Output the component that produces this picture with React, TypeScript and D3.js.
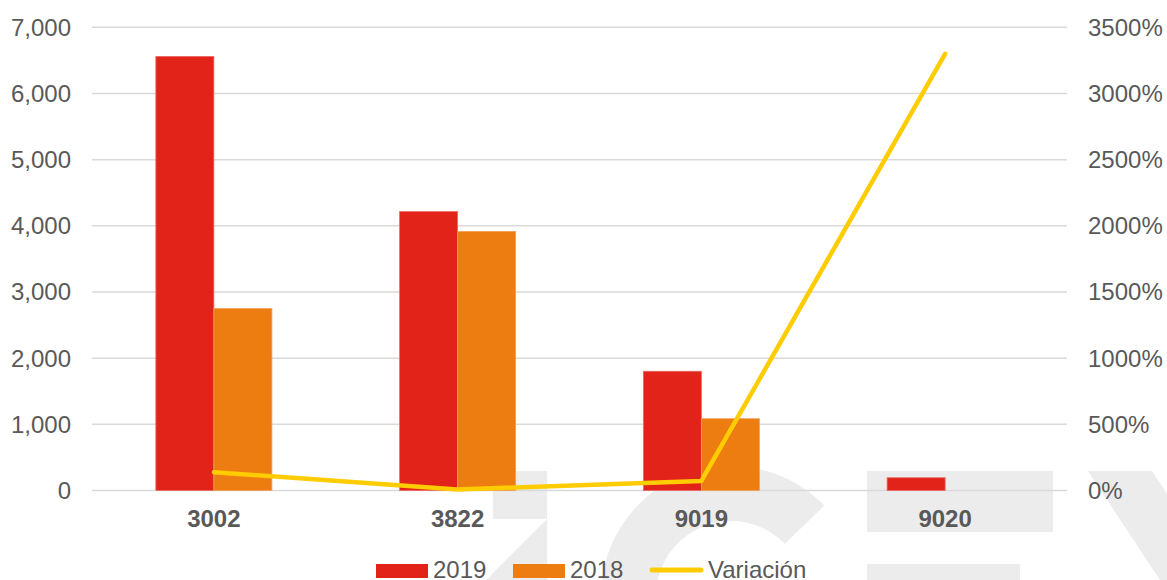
import React from 'react'
import * as d3 from 'd3'

// datos del gráfico
const categories = ['3002', '3822', '9019', '9020']
const series = ['2019', '2018']
const values2019 = [6560, 4215, 1802, 193]
const values2018 = [2750, 3915, 1085, 0]
const variacion = [138, 8, 72, 3300]
const leftTicks = [0, 1000, 2000, 3000, 4000, 5000, 6000, 7000]
const rightTicks = [0, 500, 1000, 1500, 2000, 2500, 3000, 3500]

const W = 1167
const H = 580
const FONT = "'Liberation Sans', Arial, sans-serif"
const TEXT = '#595959'
const COLORS: Record<string, string> = { '2019': '#E2231A', '2018': '#EE7D11' }
const STROKES: Record<string, string> = { '2019': '#EC6A62', '2018': '#F29E55' }
const LINE = '#FFCC00'
const WM = '#ECECEC'

export default function App() {
  const x = d3.scaleBand<string>()
    .domain(categories)
    .range([92, 1067])
    .paddingInner(0.524)
    .paddingOuter(0.262)
  const x1 = d3.scaleBand<string>().domain(series).range([0, x.bandwidth()])
  const y = d3.scaleLinear().domain([0, 7000]).range([490.5, 27.3])
  const yr = d3.scaleLinear().domain([0, 3500]).range([490.5, 27.3])
  const fmt = d3.format(',')

  const rows = categories.map((c, i) => ({ c, '2019': values2019[i], '2018': values2018[i], v: variacion[i] }))

  const line = d3.line<{ c: string; v: number }>()
    .x((d) => (x(d.c) || 0) + x.bandwidth() / 2)
    .y((d) => yr(d.v))

  // marca de agua (fondo gris)
  const ring = d3.arc()({
    innerRadius: 75,
    outerRadius: 130,
    startAngle: -Math.PI * 0.95,
    endAngle: Math.PI * 0.255,
  }) || ''

  return (
    <svg width={W} height={H} style={{ position: 'absolute', left: 0, top: 0, display: 'block' }}
      fontFamily={FONT}>
      <rect width={W} height={H} fill="#fff" />
      <g fill={WM}>
        <path d="M493,471 L547,471 L547,519 L493,519 Z" />
        <path d="M547,519 L547,580 L487,580 L493,573 Z" />
        <path d={ring} transform="translate(731,596)" />
        <rect x={867} y={471} width={186} height={61} />
        <rect x={867} y={564} width={153} height={20} />
        <path d="M1088,471 L1152,471 L1224,580 L1160,580 Z" />
      </g>

      {leftTicks.map((t) => (
        <line key={t} x1={92} x2={1067} y1={y(t)} y2={y(t)} stroke="#D9D9D9" strokeWidth={1.5} />
      ))}

      {leftTicks.map((t) => (
        <text key={t} x={71} y={y(t)} dy="0.35em" textAnchor="end" fontSize={24} fill={TEXT}>{fmt(t)}</text>
      ))}
      {rightTicks.map((t) => (
        <text key={t} x={1088} y={yr(t)} dy="0.35em" textAnchor="start" fontSize={24} fill={TEXT}>{`${t}%`}</text>
      ))}

      {rows.map((r) => (
        <g key={r.c} transform={`translate(${x(r.c)},0)`}>
          {series.map((s) => {
            const v = (r as any)[s] as number
            if (v <= 0) return null
            return (
              <rect key={s} x={x1(s)} y={y(v)} width={x1.bandwidth()} height={y(0) - y(v)}
                fill={COLORS[s]} stroke={STROKES[s]} strokeWidth={0.8} />
            )
          })}
        </g>
      ))}

      <path d={line(rows) || ''} fill="none" stroke={LINE} strokeWidth={4.5}
        strokeLinecap="round" strokeLinejoin="round" />

      {categories.map((c) => (
        <text key={c} x={(x(c) || 0) + x.bandwidth() / 2} y={527} textAnchor="middle"
          fontSize={24} fontWeight="bold" fill={TEXT}>{c}</text>
      ))}

      {/* leyenda */}
      <g fontSize={24} fill={TEXT}>
        <rect x={376} y={564} width={52} height={14} fill={COLORS['2019']} />
        <text x={433} y={578}>2019</text>
        <rect x={513} y={564} width={52} height={14} fill={COLORS['2018']} />
        <text x={570} y={578}>2018</text>
        <line x1={652} x2={701} y1={570} y2={570} stroke={LINE} strokeWidth={5} strokeLinecap="round" />
        <text x={708} y={578}>Variación</text>
      </g>
    </svg>
  )
}
